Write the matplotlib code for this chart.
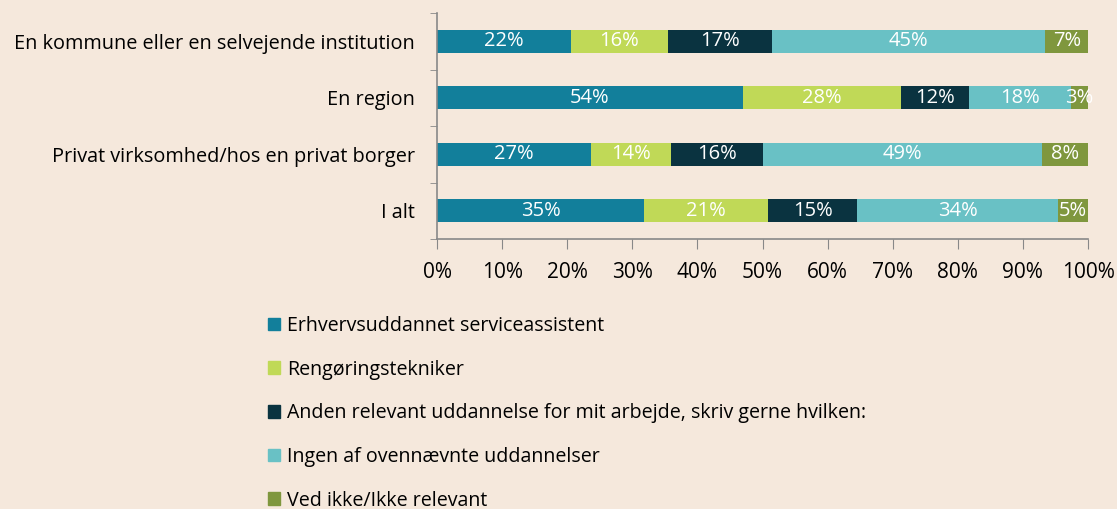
import numpy as np
import matplotlib.pyplot as plt
from matplotlib.patches import Patch

categories = ["En kommune eller en selvejende institution", "En region",
              "Privat virksomhed/hos en privat borger", "I alt"]
series = ["Erhvervsuddannet serviceassistent", "Rengøringstekniker",
          "Anden relevant uddannelse for mit arbejde, skriv gerne hvilken:",
          "Ingen af ovennævnte uddannelser", "Ved ikke/Ikke relevant"]
values = [
    [22, 54, 27, 35],
    [16, 28, 14, 21],
    [17, 12, 16, 15],
    [45, 18, 49, 34],
    [7, 3, 8, 5],
]
colors = ["#127f9b", "#c0d957", "#0a3340", "#69c1c5", "#7f973e"]

bg = "#f5e8dc"
plt.rcParams['font.family'] = ['Open Sans', 'DejaVu Sans']

fig = plt.figure(figsize=(11.17, 5.09), dpi=100, facecolor=bg)
ax = fig.add_axes([437/1117, 1-239/509, 651/1117, 226/509])
ax.set_facecolor(bg)

# bars are scaled to 100 %, labels show the raw shares
vals = np.array(values, dtype=float)
shares = vals / vals.sum(axis=0)
y = np.arange(len(categories))
left = np.zeros(len(categories))
for i, name in enumerate(series):
    ax.barh(y, shares[i], left=left, height=0.41, color=colors[i], label=name)
    for j in range(len(categories)):
        ax.text(left[j] + shares[i][j] / 2, y[j], f"{values[i][j]}%",
                ha="center", va="center", color="white", fontsize=14.5)
    left += shares[i]

ax.set_xlim(0, 1)
ax.set_ylim(len(categories) - 0.5, -0.5)
ax.set_xticks(np.linspace(0, 1, 11))
ax.set_xticklabels([f"{int(t)}%" for t in np.arange(0, 101, 10)], fontsize=15)
ax.set_yticks(y)
ax.set_yticklabels(categories, fontsize=14.3)
ax.set_yticks(np.arange(-0.5, len(categories)), minor=True)
ax.tick_params(axis="y", which="major", length=0, pad=16)
ax.tick_params(axis="y", which="minor", length=5, color="#888888", direction="out")
ax.tick_params(axis="x", length=7, color="#888888", direction="out", pad=9.5)
for s in ["top", "right"]:
    ax.spines[s].set_visible(False)
for s in ["left", "bottom"]:
    ax.spines[s].set_color("#888888")
    ax.spines[s].set_linewidth(1.2)

handles = [Patch(color=c) for c in colors]
fig.legend(handles, series, loc="upper left", bbox_to_anchor=(260/1117, 1-308/509),
           frameon=False, fontsize=14.1, labelspacing=1.21, handlelength=0.6,
           handleheight=0.6, handletextpad=0.4, borderaxespad=0)

fig.savefig("out.png", dpi=100, facecolor=bg)
